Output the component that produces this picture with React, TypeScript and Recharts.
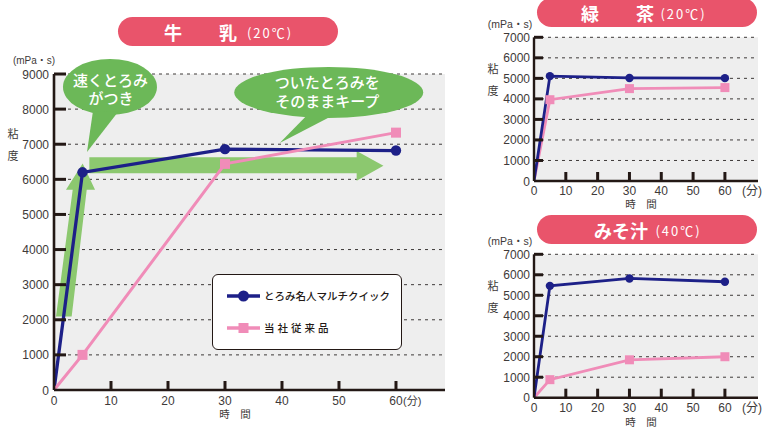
import React from 'react';
import { LineChart, Line, XAxis, YAxis, CartesianGrid, ReferenceArea, Legend } from 'recharts';

// ---------- data ----------
const times = [0, 5, 30, 60];
const seriesNames = ['とろみ名人マルチクイック', '当社従来品'];
const milkQuick = [0, 6200, 6860, 6820];
const milkConventional = [0, 1000, 6440, 7330];
const greenTeaQuick = [0, 5110, 5020, 5010];
const greenTeaConventional = [0, 3960, 4500, 4550];
const misoQuick = [0, 5460, 5820, 5660];
const misoConventional = [0, 880, 1850, 2000];
const xTicks = [0, 10, 20, 30, 40, 50, 60];
const milkYTicks = [0, 1000, 2000, 3000, 4000, 5000, 6000, 7000, 8000, 9000];
const smallYTicks = [0, 1000, 2000, 3000, 4000, 5000, 6000, 7000];
const bubbleLeftText = ['速くとろみ', 'がつき'];
const bubbleRightText = ['ついたとろみを', 'そのままキープ'];

const toRows = (q: number[], c: number[]) => times.map((t, i) => ({ t, quick: q[i], conv: c[i] }));
const milkRows = toRows(milkQuick, milkConventional);
const teaRows = toRows(greenTeaQuick, greenTeaConventional);
const misoRows = toRows(misoQuick, misoConventional);

// ---------- styles ----------
const NAVY = '#1d2088';
const PINK = '#f08cb8';
const AXIS = '#231815';
const LABEL = '#3e3a39';
const GREEN_ARROW = '#8cc86f';
const GREEN_BUBBLE = '#6cb858';
const TITLE = '#e9546b';
const PLOT_BG = '#eeeeee';
const FONT = '"Noto Sans CJK JP", "Noto Sans", sans-serif';
const NUM_FONT = '"Liberation Sans", "Noto Sans CJK JP", sans-serif';

const makeYTick = (len: number, sw: number, margin: number) => (p: any) => {
  const { x, y, payload } = p;
  const ax = x + margin;
  return (
    <g>
      {payload.value !== 0 && (
        <line x1={ax} x2={ax + len} y1={y} y2={y} stroke={AXIS} strokeWidth={sw} />
      )}
      <text x={x} y={y + 4.5} textAnchor="end" fontSize={12} fill={LABEL} fontFamily={NUM_FONT}>
        {payload.value}
      </text>
    </g>
  );
};

const makeXTick = (len: number, sw: number, margin: number, unitGap: number, unitSize: number, base: number) => (p: any) => {
  const { x, y, payload } = p;
  const ay = y - margin;
  return (
    <g>
      {payload.value !== 0 && (
        <line x1={x} x2={x} y1={ay} y2={ay - len} stroke={AXIS} strokeWidth={sw} />
      )}
      <text x={x} y={ay + base} textAnchor="middle" fontSize={12} fill={LABEL} fontFamily={NUM_FONT}>
        {payload.value}
      </text>
      {payload.value === 60 && (
        <text x={x + unitGap} y={ay + base} textAnchor="start" fontSize={unitSize} fill={LABEL} fontFamily={NUM_FONT}>
          (分)
        </text>
      )}
    </g>
  );
};

const makeCircle = (r: number) => (p: any) =>
  p.index === 0 ? <g key={`c${p.index}`} /> : <circle key={`c${p.index}`} cx={p.cx} cy={p.cy} r={r} fill={NAVY} />;
const makeSquare = (s: number) => (p: any) =>
  p.index === 0 ? (
    <g key={`s${p.index}`} />
  ) : (
    <rect key={`s${p.index}`} x={p.cx - s / 2} y={p.cy - s / 2} width={s} height={s} fill={PINK} />
  );

// ---------- milk annotations (drawn in data space through a ReferenceArea spanning 0..60 x 0..9000) ----------
const MilkDecor = (props: any) => {
  const { x, y, width, height } = props;
  const px = (v: number) => x + (v / 60) * width;
  const py = (v: number) => y + height - (v / 9000) * height;
  const poly = (pts: number[][]) => pts.map(([a, b]) => `${px(a)},${py(b)}`).join(' ');
  const upArrow = poly([
    [0.35, 2090], [3.1, 2090], [5.74, 5700], [7.2, 5700], [5.03, 6450], [2.1, 5700], [3.28, 5700],
  ]);
  const rightArrow = poly([
    [6.2, 6630], [53.1, 6630], [53.1, 6810], [57.8, 6386], [53.1, 5963], [53.1, 6173], [6.2, 6173],
  ]);
  const lb = { cx: px(9.82), cy: py(8630) };
  const rb = { cx: px(48.2), cy: py(8476) };
  return (
    <g>
      <polygon points={upArrow} fill={GREEN_ARROW} />
      <polygon points={rightArrow} fill={GREEN_ARROW} />
      <ellipse cx={lb.cx} cy={lb.cy} rx={47} ry={28} fill={GREEN_BUBBLE} />
      <polygon
        points={`${lb.cx - 17},${lb.cy + 24} ${px(5.79)},${py(6780)} ${lb.cx + 8},${lb.cy + 25}`}
        fill={GREEN_BUBBLE}
      />
      <ellipse cx={rb.cx} cy={rb.cy} rx={94.5} ry={25.5} fill={GREEN_BUBBLE} />
      <polygon
        points={`${rb.cx - 22},${rb.cy + 23} ${px(39.6)},${py(7037)} ${rb.cx + 4},${rb.cy + 23}`}
        fill={GREEN_BUBBLE}
      />
      <g fontFamily={NUM_FONT} fontSize={15} fill="#fff" fontWeight={500} textAnchor="middle">
        <text x={lb.cx + 0.5} y={lb.cy - 0.5}>{bubbleLeftText[0]}</text>
        <text x={lb.cx + 1} y={lb.cy + 17.5}>{bubbleLeftText[1]}</text>
        <text x={rb.cx - 1.5} y={rb.cy - 4}>{bubbleRightText[0]}</text>
        <text x={rb.cx - 1.5} y={rb.cy + 14.5}>{bubbleRightText[1]}</text>
      </g>
    </g>
  );
};

// ---------- legend ----------
const LegendBox = (props: any) => {
  const payload = props.payload || [];
  const nameOf = (key: string, i: number) => {
    const item = payload.find((p: any) => p.dataKey === key);
    return item ? item.value : seriesNames[i];
  };
  return (
    <div
      style={{
        boxSizing: 'border-box',
        width: 190,
        height: 76,
        border: `1.8px solid ${AXIS}`,
        borderRadius: 6,
        background: '#fff',
        position: 'relative',
        fontFamily: FONT,
        color: '#231815',
      }}
    >
      <svg width={40} height={76} style={{ position: 'absolute', left: 12, top: -1 }}>
        <line x1={2} x2={35} y1={22} y2={22} stroke={NAVY} strokeWidth={3.3} />
        <circle cx={18.5} cy={22} r={5.5} fill={NAVY} />
        <line x1={2} x2={35} y1={54} y2={54} stroke={PINK} strokeWidth={3.3} />
        <rect x={13.5} y={49} width={10} height={10} fill={PINK} />
      </svg>
      <div style={{ position: 'absolute', left: 51, top: 13, fontSize: 10.5, fontWeight: 500, whiteSpace: 'nowrap' }}>
        {nameOf('quick', 0)}
      </div>
      <div
        style={{ position: 'absolute', left: 51, top: 45, fontSize: 10.5, fontWeight: 500, letterSpacing: 3, whiteSpace: 'nowrap' }}
      >
        {nameOf('conv', 1)}
      </div>
    </div>
  );
};

// ---------- overlays ----------
const abs = (left: number, top: number, extra: React.CSSProperties = {}): React.CSSProperties => ({
  position: 'absolute',
  left,
  top,
  transform: 'translate(-50%, -50%)',
  whiteSpace: 'nowrap',
  fontFamily: FONT,
  lineHeight: 1,
  ...extra,
});

const Pill = ({ left, top, parts }: { left: number; top: number; parts: { t: string; cx: number; size: number; w: number; ls?: number }[] }) => (
  <div style={{ position: 'absolute', left, top, width: 220, height: 29, borderRadius: 15, background: TITLE }}>
    {parts.map((p, i) => (
      <span key={i} style={abs(p.cx, 15, { color: '#fff', fontSize: p.size, fontWeight: p.w, letterSpacing: p.ls || 0 })}>
        {p.t}
      </span>
    ))}
  </div>
);

const AxisTexts = ({ unit, nen, dox, time }: { unit: number[]; nen: number[]; dox: number[]; time: number[] }) => (
  <>
    <span style={abs(unit[0], unit[1], { fontSize: unit[2], color: LABEL, fontFamily: NUM_FONT })}>(mPa・s)</span>
    <span style={abs(nen[0], nen[1], { fontSize: 11, color: LABEL })}>粘</span>
    <span style={abs(dox[0], dox[1], { fontSize: 11, color: LABEL })}>度</span>
    <span style={abs(time[0], time[1], { fontSize: 10.5, color: LABEL, fontFamily: NUM_FONT })}>時　間</span>
  </>
);

// ---------- charts ----------
const MilkChart = () => (
  <LineChart width={460} height={428} data={milkRows} margin={{ top: 74, right: 15, bottom: 18, left: 0 }}>
    <CartesianGrid vertical={false} stroke="#3e3a39" strokeDasharray="3 4" fill={PLOT_BG} fillOpacity={1} />
    <XAxis
      type="number"
      dataKey="t"
      domain={[0, 68.6]}
      ticks={xTicks}
      height={20}
      tickSize={0}
      tickMargin={4}
      axisLine={{ stroke: AXIS, strokeWidth: 2.6 }}
      tickLine={false}
      tick={makeXTick(9, 3, 4, 7, 11, 15)}
      allowDataOverflow
    />
    <YAxis
      type="number"
      domain={[0, 9000]}
      ticks={milkYTicks}
      width={54}
      tickSize={0}
      tickMargin={5}
      axisLine={{ stroke: AXIS, strokeWidth: 2.6 }}
      tickLine={false}
      tick={makeYTick(12, 3, 5)}
      interval={0}
    />
    <ReferenceArea x1={0} x2={60} y1={0} y2={9000} ifOverflow="visible" shape={(p: any) => <MilkDecor {...p} />} />
    <Line
      dataKey="quick"
      name={seriesNames[0]}
      stroke={NAVY}
      strokeWidth={3.3}
      dot={makeCircle(5.2)}
      activeDot={false}
      isAnimationActive={false}
    />
    <Line
      dataKey="conv"
      name={seriesNames[1]}
      stroke={PINK}
      strokeWidth={3}
      dot={makeSquare(10)}
      activeDot={false}
      isAnimationActive={false}
    />
    <Legend
      layout="horizontal"
      verticalAlign="middle"
      align="center"
      content={(p: any) => <LegendBox {...p} />}
      wrapperStyle={{ left: 212, top: 274, width: 190, height: 76 }}
    />
  </LineChart>
);

const SmallChart = ({ rows, height, top, bottom }: { rows: any[]; height: number; top: number; bottom: number }) => (
  <LineChart width={305} height={height} data={rows} margin={{ top, right: 17, bottom, left: 0 }}>
    <CartesianGrid vertical={false} stroke="#3e3a39" strokeDasharray="3 4" fill={PLOT_BG} fillOpacity={1} />
    <XAxis
      type="number"
      dataKey="t"
      domain={[0, 70.4]}
      ticks={xTicks}
      height={20}
      tickSize={0}
      tickMargin={4}
      axisLine={{ stroke: AXIS, strokeWidth: 2.4 }}
      tickLine={false}
      tick={makeXTick(9, 3, 4, 17, 12, 14)}
      allowDataOverflow
    />
    <YAxis
      type="number"
      domain={[0, 7000]}
      ticks={smallYTicks}
      width={64}
      tickSize={0}
      tickMargin={4}
      axisLine={{ stroke: AXIS, strokeWidth: 2.4 }}
      tickLine={false}
      tick={makeYTick(9, 3, 4)}
      interval={0}
    />
    <Line
      dataKey="conv"
      name={seriesNames[1]}
      stroke={PINK}
      strokeWidth={2.8}
      dot={makeSquare(9)}
      activeDot={false}
      isAnimationActive={false}
    />
    <Line
      dataKey="quick"
      name={seriesNames[0]}
      stroke={NAVY}
      strokeWidth={2.8}
      dot={makeCircle(4.2)}
      activeDot={false}
      isAnimationActive={false}
    />
  </LineChart>
);

export default function App() {
  return (
    <div
      style={{
        position: 'absolute',
        left: 0,
        top: 0,
        width: 775,
        height: 428,
        background: '#fff',
        overflow: 'hidden',
        fontFamily: FONT,
      }}
    >
      <div style={{ position: 'absolute', left: 0, top: 0 }}>
        <MilkChart />
      </div>
      <div style={{ position: 'absolute', left: 470, top: 0 }}>
        <SmallChart rows={teaRows} height={215} top={37.3} bottom={14} />
      </div>
      <div style={{ position: 'absolute', left: 470, top: 210 }}>
        <SmallChart rows={misoRows} height={218} top={44.3} bottom={10.3} />
      </div>

      <Pill
        left={118}
        top={17}
        parts={[
          { t: '牛', cx: 55, size: 18, w: 700 },
          { t: '乳', cx: 110, size: 18, w: 700 },
          { t: '(20℃)', cx: 152, size: 13, w: 400, ls: 2 },
        ]}
      />
      <Pill
        left={537}
        top={-2}
        parts={[
          { t: '緑', cx: 53, size: 18, w: 700 },
          { t: '茶', cx: 108, size: 18, w: 700 },
          { t: '(20℃)', cx: 146.5, size: 13, w: 400, ls: 2 },
        ]}
      />
      <Pill
        left={537}
        top={215}
        parts={[
          { t: 'みそ汁', cx: 84, size: 18, w: 700 },
          { t: '(40℃)', cx: 141.5, size: 13, w: 400, ls: 2 },
        ]}
      />

      <AxisTexts unit={[34, 61, 10]} nen={[13, 133]} dox={[13, 155]} time={[235, 413.5]} />
      <AxisTexts unit={[510, 23.5, 10.5]} nen={[493, 68]} dox={[493, 90]} time={[641, 204]} />
      <AxisTexts unit={[510, 240.5, 10.5]} nen={[493, 285]} dox={[493, 307]} time={[641, 421.5]} />
    </div>
  );
}
